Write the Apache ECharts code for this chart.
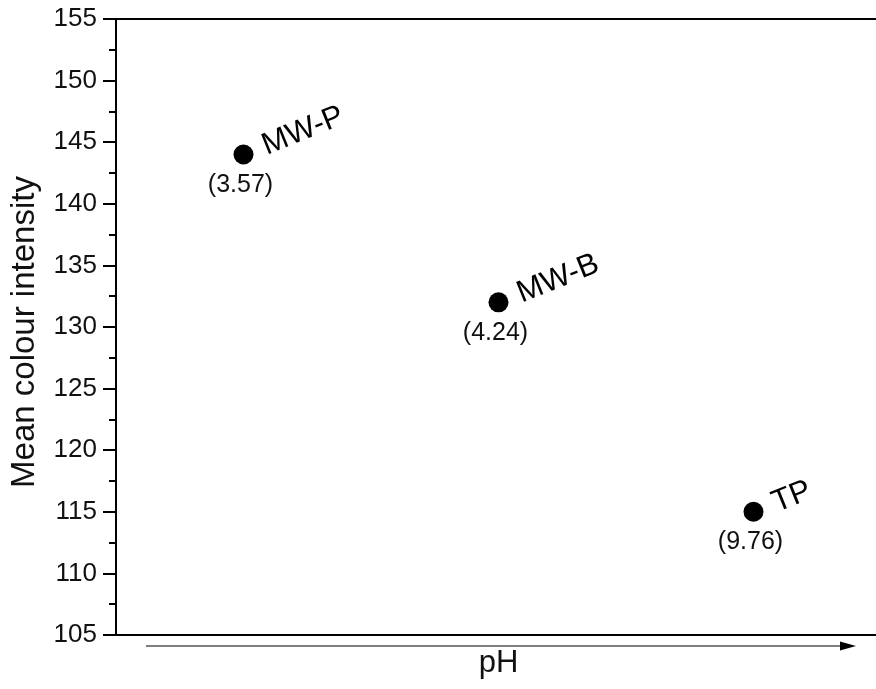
<!DOCTYPE html>
<html><head><meta charset="utf-8">
<script src="https://cdn.jsdelivr.net/npm/echarts@6/dist/echarts.min.js"></script>
<style>html,body{margin:0;padding:0;background:#fff}#c{width:876px;height:689px}</style>
</head><body><div id="c"></div>
<script>
var categories = ['MW-P', 'MW-B', 'TP'];
var intensity = [144, 132, 115];
var phValues = [3.57, 4.24, 9.76];
var yTicks = {min: 105, max: 155, interval: 5};

var FONT = 'Liberation Sans, Arial, sans-serif';
var chart = echarts.init(document.getElementById('c'));
chart.setOption({
  animation: false,
  backgroundColor: '#fff',
  grid: {left: 116, width: 765, top: 19, bottom: 54, outerBoundsMode: 'none', containLabel: false},
  xAxis: [{
    type: 'category', data: categories, position: 'bottom', boundaryGap: true,
    axisLine: {lineStyle: {color: '#000', width: 2}},
    axisTick: {show: false}, axisLabel: {show: false}, splitLine: {show: false},
    name: 'pH', nameLocation: 'middle', nameGap: 13,
    nameTextStyle: {fontFamily: FONT, fontSize: 31, color: '#111'}
  }, {
    type: 'category', data: categories, position: 'top',
    axisLine: {lineStyle: {color: '#000', width: 2}},
    axisTick: {show: false}, axisLabel: {show: false}, splitLine: {show: false}
  }],
  yAxis: {
    type: 'value', min: yTicks.min, max: yTicks.max, interval: yTicks.interval,
    axisLine: {show: true, lineStyle: {color: '#000', width: 2}},
    axisTick: {show: true, inside: false, length: 13, lineStyle: {color: '#000', width: 2}},
    minorTick: {show: true, splitNumber: 2, length: 7, lineStyle: {color: '#000', width: 2}},
    axisLabel: {fontFamily: FONT, fontSize: 26, color: '#111', margin: 19},
    splitLine: {show: false},
    name: 'Mean colour intensity', nameLocation: 'middle', nameGap: 75,
    nameTextStyle: {fontFamily: FONT, fontSize: 33, color: '#111', padding: [0, 10, 0, 0]}
  },
  series: [{
    type: 'scatter', xAxisIndex: 0, symbol: 'circle', symbolSize: 20,
    itemStyle: {color: '#000', opacity: 1},
    data: intensity,
    label: {
      show: true, position: 'right', distance: 13, rotate: 22, offset: [0, -8],
      formatter: function (p) { return categories[p.dataIndex]; },
      fontFamily: FONT, fontSize: 31, color: '#000'
    }
  }, {
    type: 'scatter', xAxisIndex: 0, symbol: 'circle', symbolSize: 20,
    itemStyle: {color: '#000', opacity: 0},
    data: intensity,
    label: {
      show: true, position: 'bottom', distance: 8, offset: [-3, 0],
      formatter: function (p) { return '(' + phValues[p.dataIndex].toFixed(2) + ')'; },
      fontFamily: FONT, fontSize: 25, color: '#111', opacity: 1
    }
  }],
  graphic: [{
    type: 'line', shape: {x1: 146, y1: 646, x2: 845, y2: 646},
    style: {stroke: '#555', lineWidth: 1.6}
  }, {
    type: 'polygon', shape: {points: [[840, 641.5], [856, 646], [840, 650.5]]},
    style: {fill: '#000'}
  }]
});
</script></body></html>
